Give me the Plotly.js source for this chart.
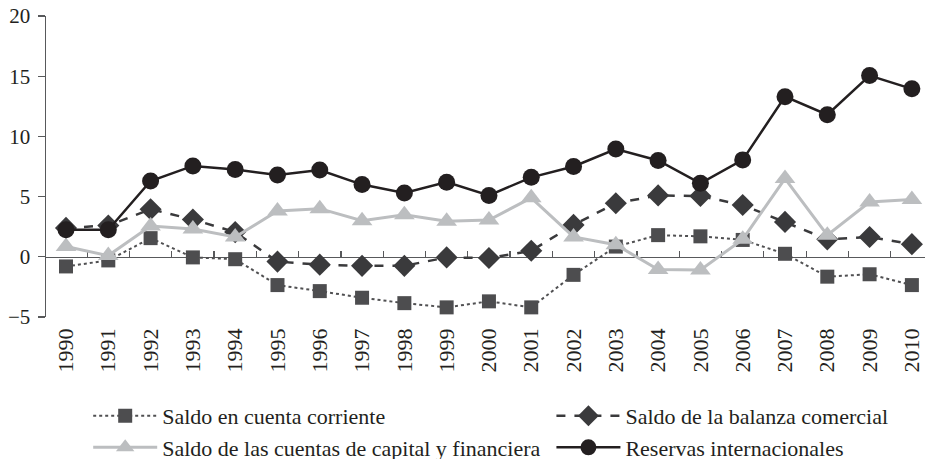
<!DOCTYPE html>
<html>
<head>
<meta charset="utf-8">
<script src="https://cdn.plot.ly/plotly-3.0.1.min.js"></script>
<style>html,body{margin:0;padding:0;background:#fff;}#chart{width:925px;height:459px;}</style>
</head>
<body>
<div id="chart"></div>
<script>
const years = ["1990","1991","1992","1993","1994","1995","1996","1997","1998","1999","2000","2001","2002","2003","2004","2005","2006","2007","2008","2009","2010"];
const cuentaCorriente = [-0.8,-0.3,1.55,-0.05,-0.2,-2.35,-2.85,-3.4,-3.85,-4.2,-3.7,-4.2,-1.5,0.85,1.8,1.7,1.4,0.25,-1.65,-1.45,-2.35];
const balanzaComercial = [2.4,2.6,3.95,3.1,2.05,-0.4,-0.65,-0.75,-0.75,-0.05,-0.1,0.5,2.65,4.45,5.1,5.05,4.3,2.9,1.45,1.65,1.05];
const cuentaCapital = [0.85,0.1,2.55,2.3,1.65,3.8,4.0,3.0,3.5,2.95,3.05,4.9,1.65,1.0,-1.05,-1.1,1.45,6.5,1.8,4.55,4.75];
const reservas = [2.25,2.25,6.3,7.55,7.25,6.8,7.2,6.0,5.3,6.2,5.1,6.6,7.5,8.95,8.0,6.1,8.05,13.3,11.8,15.05,13.95];
const seriesNames = ["Saldo en cuenta corriente","Saldo de la balanza comercial","Saldo de las cuentas de capital y financiera","Reservas internacionales"];
const yTicks = [-5,0,5,10,15,20];
const yTickText = ["\u22125","0","5","10","15","20"];

const textColor = "#231f20";
const fontFam = "Liberation Serif";
const xRange = [-0.473, 20.31];
const boundaries = years.slice(0, -1).map((_, i) => i + 0.5);

const traces = [
  {x: years, y: cuentaCorriente, name: seriesNames[0], mode: "lines+markers", legend: "legend",
   line: {color: "#505052", width: 2, dash: "dot"},
   marker: {symbol: "square", size: 14, color: "#4d4d4f"}},
  {x: years, y: balanzaComercial, name: seriesNames[1], mode: "lines+markers", legend: "legend2",
   line: {color: "#3a3a3c", width: 2.5, dash: "dash"},
   marker: {symbol: "diamond", size: 17, color: "#3a3a3c"}},
  {x: years, y: cuentaCapital, name: seriesNames[2], mode: "lines+markers", legend: "legend",
   line: {color: "#bcbec0", width: 3},
   marker: {symbol: "triangle-up", size: 18, color: "#bcbec0"}},
  {x: years, y: reservas, name: seriesNames[3], mode: "lines+markers", legend: "legend2",
   line: {color: "#231f20", width: 2.5},
   marker: {symbol: "circle", size: 17, color: "#231f20"}}
];

const legendCommon = {
  orientation: "v", yanchor: "top", y: -0.259, xanchor: "left",
  font: {family: fontFam, size: 22, color: textColor},
  itemwidth: 64, bgcolor: "rgba(0,0,0,0)", traceorder: "normal"
};

const layout = {
  width: 925, height: 459,
  margin: {l: 46, r: 0, t: 16, b: 142, autoexpand: false},
  paper_bgcolor: "#fff", plot_bgcolor: "#fff",
  font: {family: fontFam, color: textColor, size: 20},
  showlegend: true,
  xaxis: {
    type: "category", range: xRange, showgrid: false, zeroline: false,
    showline: false, ticks: "", tickangle: -90, dtick: 1,
    tickfont: {family: fontFam, size: 22, color: textColor},
    ticklabelstandoff: 6, automargin: false
  },
  xaxis2: {
    type: "linear", overlaying: "x", anchor: "free", position: 0.2, side: "bottom",
    range: xRange, showgrid: false, zeroline: false, showline: true,
    linecolor: "#58595b", linewidth: 1.5, ticks: "inside", ticklen: 6,
    tickcolor: "#58595b", tickwidth: 1.2, tickmode: "array", tickvals: boundaries,
    showticklabels: false, layer: "below traces", fixedrange: true
  },
  yaxis: {
    range: [-5, 20], showgrid: false, zeroline: false, showline: true,
    linecolor: "#58595b", linewidth: 1.5, ticks: "outside", ticklen: 7,
    tickcolor: "#58595b", tickwidth: 1.2, tickmode: "array",
    tickvals: yTicks, ticktext: yTickText, automargin: false,
    tickfont: {family: fontFam, size: 21, color: textColor}, ticklabelstandoff: 3
  },
  legend: Object.assign({}, legendCommon, {x: 0.048}),
  legend2: Object.assign({}, legendCommon, {x: 0.575})
};

traces.push({x: [], y: [], xaxis: "x2", yaxis: "y", showlegend: false, hoverinfo: "skip"});

Plotly.newPlot("chart", traces, layout, {displayModeBar: false, staticPlot: true});
</script>
</body>
</html>
